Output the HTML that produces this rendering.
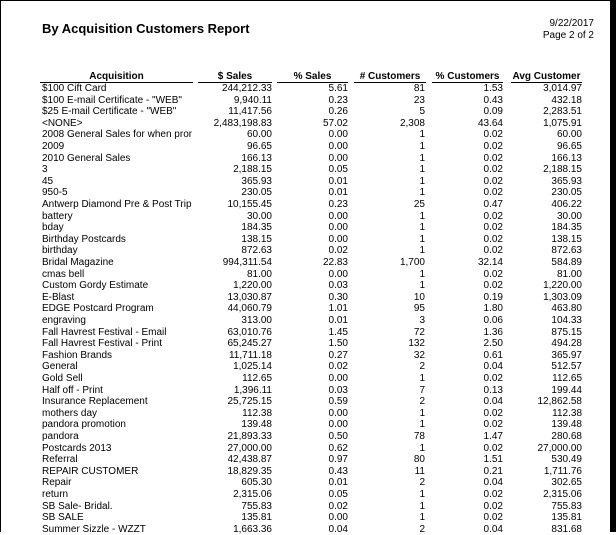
<!DOCTYPE html>
<html><head><meta charset="utf-8"><style>
*{margin:0;padding:0}
body{width:616px;height:532px;background:#fff;position:relative;overflow:hidden;font-family:"Liberation Sans",Arial,sans-serif;color:#000}
.bl{position:absolute;left:0;top:0;width:1px;height:532px;background:#000}
.bt{position:absolute;left:0;top:0;width:616px;height:1px;background:#000}
.br{position:absolute;left:610px;top:0;width:6px;height:532px;background:#000}
.t{position:absolute;left:42px;top:21px;font-size:13px;font-weight:bold}
.d{position:absolute;right:22px;top:18px;font-size:10px;text-align:right;line-height:12px}
.h{position:absolute;top:71px;font-size:10px;font-weight:bold;border-bottom:1px solid #000;height:11px;line-height:11px}
.r{position:absolute;left:0;width:610px;height:11.5px;font-size:10px;line-height:11.5px}
.r span{position:absolute;white-space:nowrap;overflow:hidden}
.a{left:42px;width:150px}
.c1{right:338px}.c2{right:262px}.c3{right:185px}.c4{right:107px}.c5{right:28px}
</style></head><body>
<div class="bl"></div><div class="bt"></div><div class="br"></div>
<div class="t">By Acquisition Customers Report</div>
<div class="d">9/22/2017<br>Page 2 of 2</div>
<div class="h" style="left:40px;width:153px;text-align:center">Acquisition</div>
<div class="h" style="left:198px;width:74px;text-align:center">$ Sales</div>
<div class="h" style="left:277px;width:71px;text-align:center">% Sales</div>
<div class="h" style="left:354px;width:72px;text-align:center"># Customers</div>
<div class="h" style="left:432px;width:71px;text-align:center">% Customers</div>
<div class="h" style="left:511px;width:71px;text-align:center">Avg Customer</div>
<div id="rows"></div>
<script>
var d=[
["$100 Cift Card","244,212.33","5.61","81","1.53","3,014.97"],
["$100 E-mail Certificate - \"WEB\"","9,940.11","0.23","23","0.43","432.18"],
["$25 E-mail Certificate - \"WEB\"","11,417.56","0.26","5","0.09","2,283.51"],
["<NONE>","2,483,198.83","57.02","2,308","43.64","1,075.91"],
["2008 General Sales for when pron","60.00","0.00","1","0.02","60.00"],
["2009","96.65","0.00","1","0.02","96.65"],
["2010 General Sales","166.13","0.00","1","0.02","166.13"],
["3","2,188.15","0.05","1","0.02","2,188.15"],
["45","365.93","0.01","1","0.02","365.93"],
["950-5","230.05","0.01","1","0.02","230.05"],
["Antwerp Diamond Pre & Post Trip","10,155.45","0.23","25","0.47","406.22"],
["battery","30.00","0.00","1","0.02","30.00"],
["bday","184.35","0.00","1","0.02","184.35"],
["Birthday Postcards","138.15","0.00","1","0.02","138.15"],
["birthday","872.63","0.02","1","0.02","872.63"],
["Bridal Magazine","994,311.54","22.83","1,700","32.14","584.89"],
["cmas bell","81.00","0.00","1","0.02","81.00"],
["Custom Gordy Estimate","1,220.00","0.03","1","0.02","1,220.00"],
["E-Blast","13,030.87","0.30","10","0.19","1,303.09"],
["EDGE Postcard Program","44,060.79","1.01","95","1.80","463.80"],
["engraving","313.00","0.01","3","0.06","104.33"],
["Fall Havrest Festival - Email","63,010.76","1.45","72","1.36","875.15"],
["Fall Havrest Festival - Print","65,245.27","1.50","132","2.50","494.28"],
["Fashion Brands","11,711.18","0.27","32","0.61","365.97"],
["General","1,025.14","0.02","2","0.04","512.57"],
["Gold Sell","112.65","0.00","1","0.02","112.65"],
["Half off - Print","1,396.11","0.03","7","0.13","199.44"],
["Insurance Replacement","25,725.15","0.59","2","0.04","12,862.58"],
["mothers day","112.38","0.00","1","0.02","112.38"],
["pandora promotion","139.48","0.00","1","0.02","139.48"],
["pandora","21,893.33","0.50","78","1.47","280.68"],
["Postcards 2013","27,000.00","0.62","1","0.02","27,000.00"],
["Referral","42,438.87","0.97","80","1.51","530.49"],
["REPAIR CUSTOMER","18,829.35","0.43","11","0.21","1,711.76"],
["Repair","605.30","0.01","2","0.04","302.65"],
["return","2,315.06","0.05","1","0.02","2,315.06"],
["SB Sale- Bridal.","755.83","0.02","1","0.02","755.83"],
["SB SALE","135.81","0.00","1","0.02","135.81"],
["Summer Sizzle - WZZT","1,663.36","0.04","2","0.04","831.68"]];
var h="",cl=["a","c1","c2","c3","c4","c5"];
function e(s){return s.replace(/&/g,"&amp;").replace(/</g,"&lt;").replace(/>/g,"&gt;")}
d.forEach(function(r,i){h+='<div class="r" style="top:'+(83+i*11.6)+'px">';r.forEach(function(v,j){h+='<span class="'+cl[j]+'">'+e(v)+'</span>'});h+='</div>'});
document.getElementById("rows").innerHTML=h;
</script>
</body></html>
